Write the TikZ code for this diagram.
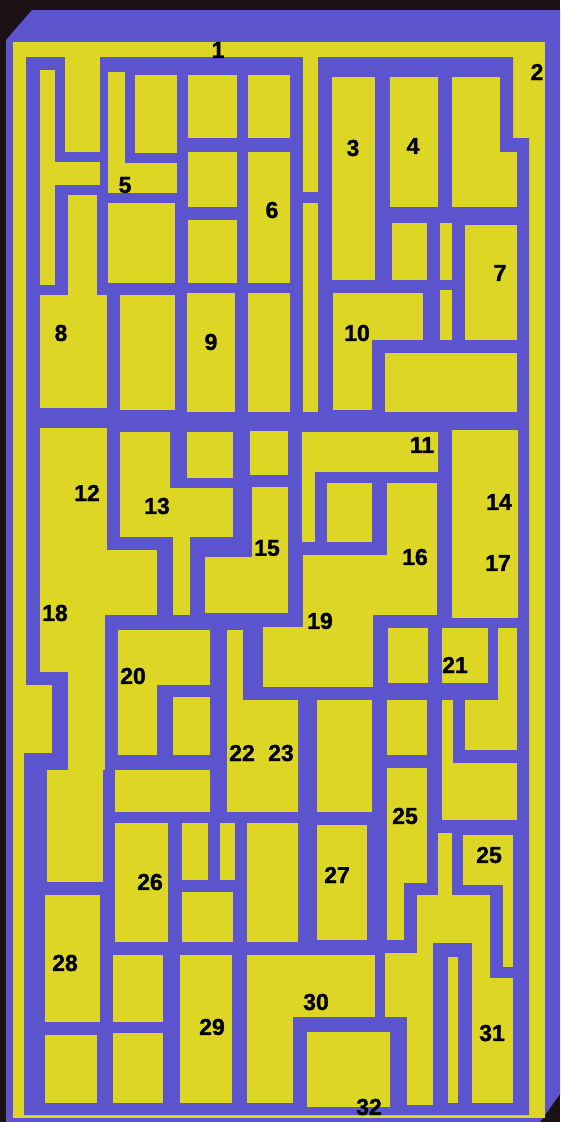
\documentclass[tikz,border=0pt]{standalone}
\usepackage{fontspec}
\setmainfont{Liberation Sans}
\newfontfamily\mzlabelfont{Liberation Sans}[BoldFeatures={FakeBold=1.4}]
\usepackage{xcolor}
\definecolor{mzyellow}{RGB}{222,214,36}
\definecolor{mzblue}{RGB}{92,84,205}
\definecolor{mzdark}{RGB}{28,18,22}
\begin{document}
\begin{tikzpicture}[x=1pt, y=-1pt,
    wall/.style={fill=mzblue},
    room/.style={fill=mzyellow},
    lbl/.style={font=\mzlabelfont\fontsize{23}{23}\selectfont\bfseries, text=black, inner sep=0pt}
]
    \useasboundingbox (0,0) rectangle (560,1122);
    \fill[mzdark] (0,0) rectangle (560,1122);
    \fill[wall] (6,40) -- (32,10) -- (560,10) -- (560,1094) -- (540,1122) -- (6,1122) -- cycle;
    \fill[room] (13,42) rectangle (545,1118);
    \fill[wall] (26,57) -- (513,57) -- (513,138) -- (529,138) -- (529,1115) -- (24,1115) -- (24,753) -- (52,753) -- (52,685) -- (26,685) -- cycle;

    \fill[room] (65,42) rectangle (100,152);
    \fill[room] (303,42) rectangle (318,192);
    \fill[room] (303,203) rectangle (318,412);

    \fill[room] (40,70) rectangle (55,285);
    \fill[room] (40,162) rectangle (100,185);
    \fill[room] (68,195) rectangle (97,295);
    \fill[room] (40,295) rectangle (107,408);
    \fill[room] (108,72) rectangle (125,193);
    \fill[room] (108,163) rectangle (177,193);
    \fill[room] (135,75) rectangle (177,153);
    \fill[room] (108,203) rectangle (175,283);
    \fill[room] (188,75) rectangle (237,138);
    \fill[room] (188,152) rectangle (237,207);
    \fill[room] (188,220) rectangle (237,283);
    \fill[room] (248,75) rectangle (290,138);
    \fill[room] (248,152) rectangle (290,283);
    \fill[room] (332,77) rectangle (375,280);
    \fill[room] (390,77) rectangle (438,207);
    \fill[room] (452,77) rectangle (500,152);
    \fill[room] (452,152) rectangle (517,207);
    \fill[room] (392,223) rectangle (427,280);
    \fill[room] (440,223) rectangle (452,280);
    \fill[room] (465,225) rectangle (517,340);
    \fill[room] (120,295) rectangle (175,410);
    \fill[room] (187,293) rectangle (235,412);
    \fill[room] (248,293) rectangle (290,412);
    \fill[room] (333,293) rectangle (372,410);
    \fill[room] (333,293) rectangle (423,340);
    \fill[room] (440,290) rectangle (452,340);
    \fill[room] (385,353) rectangle (517,412);

    \fill[room] (40,428) rectangle (107,550);
    \fill[room] (40,550) rectangle (157,615);
    \fill[room] (40,615) rectangle (105,672);
    \fill[room] (68,672) rectangle (105,770);
    \fill[room] (47,770) rectangle (103,882);
    \fill[room] (13,685) rectangle (52,753);
    \fill[room] (120,432) rectangle (170,537);
    \fill[room] (120,488) rectangle (233,537);
    \fill[room] (173,537) rectangle (190,615);
    \fill[room] (187,432) rectangle (233,478);
    \fill[room] (250,431) rectangle (288,475);
    \fill[room] (252,487) rectangle (288,557);
    \fill[room] (205,557) rectangle (288,613);
    \fill[room] (302,432) rectangle (438,472);
    \fill[room] (302,472) rectangle (315,542);
    \fill[room] (327,483) rectangle (372,542);
    \fill[room] (387,483) rectangle (437,615);
    \fill[room] (303,555) rectangle (437,615);
    \fill[room] (303,555) rectangle (373,687);
    \fill[room] (263,627) rectangle (373,687);
    \fill[room] (452,430) rectangle (518,618);
    \fill[room] (118,630) rectangle (157,755);
    \fill[room] (118,630) rectangle (210,685);
    \fill[room] (173,697) rectangle (210,755);
    \fill[room] (115,770) rectangle (210,812);
    \fill[room] (227,630) rectangle (243,700);
    \fill[room] (227,700) rectangle (298,812);
    \fill[room] (317,700) rectangle (372,812);
    \fill[room] (388,628) rectangle (428,683);
    \fill[room] (387,700) rectangle (427,755);
    \fill[room] (387,768) rectangle (427,883);
    \fill[room] (387,883) rectangle (404,940);
    \fill[room] (442,628) rectangle (488,683);
    \fill[room] (498,628) rectangle (517,750);
    \fill[room] (465,700) rectangle (517,750);
    \fill[room] (442,700) rectangle (453,820);
    \fill[room] (442,763) rectangle (517,820);

    \fill[room] (115,823) rectangle (168,942);
    \fill[room] (182,823) rectangle (208,880);
    \fill[room] (220,823) rectangle (235,880);
    \fill[room] (182,892) rectangle (233,942);
    \fill[room] (247,823) rectangle (298,942);
    \fill[room] (317,825) rectangle (367,940);
    \fill[room] (463,835) rectangle (513,885);
    \fill[room] (503,885) rectangle (513,967);
    \fill[room] (438,833) rectangle (452,897);
    \fill[room] (417,895) rectangle (490,943);
    \fill[room] (417,895) rectangle (433,1105);
    \fill[room] (385,953) rectangle (433,1017);
    \fill[room] (407,1017) rectangle (433,1105);
    \fill[room] (472,943) rectangle (490,1103);
    \fill[room] (472,978) rectangle (513,1103);
    \fill[room] (448,957) rectangle (458,1103);
    \fill[room] (45,895) rectangle (100,1022);
    \fill[room] (45,1035) rectangle (97,1103);
    \fill[room] (113,955) rectangle (163,1022);
    \fill[room] (113,1033) rectangle (163,1103);
    \fill[room] (180,955) rectangle (232,1103);
    \fill[room] (247,955) rectangle (375,1017);
    \fill[room] (247,1017) rectangle (293,1103);
    \fill[room] (307,1032) rectangle (390,1107);

    \node[lbl] (n1) at (218,50) {1};
    \node[lbl] (n2) at (537,72) {2};
    \node[lbl] (n3) at (353,148) {3};
    \node[lbl] (n4) at (413,146) {4};
    \node[lbl] (n5) at (125,185) {5};
    \node[lbl] (n6) at (272,210) {6};
    \node[lbl] (n7) at (500,273) {7};
    \node[lbl] (n8) at (61,333) {8};
    \node[lbl] (n9) at (211,342) {9};
    \node[lbl] (n10) at (357,333) {10};
    \node[lbl] (n11) at (422,445) {11};
    \node[lbl] (n12) at (87,493) {12};
    \node[lbl] (n13) at (157,506) {13};
    \node[lbl] (n14) at (499,502) {14};
    \node[lbl] (n15) at (267,548) {15};
    \node[lbl] (n16) at (415,557) {16};
    \node[lbl] (n17) at (498,563) {17};
    \node[lbl] (n18) at (55,613) {18};
    \node[lbl] (n19) at (320,621) {19};
    \node[lbl] (n20) at (133,676) {20};
    \node[lbl] (n21) at (455,665) {21};
    \node[lbl] (n22) at (242,753) {22};
    \node[lbl] (n23) at (281,753) {23};
    \node[lbl] (n25a) at (405,816) {25};
    \node[lbl] (n25b) at (489,855) {25};
    \node[lbl] (n26) at (150,882) {26};
    \node[lbl] (n27) at (337,875) {27};
    \node[lbl] (n28) at (65,963) {28};
    \node[lbl] (n29) at (212,1027) {29};
    \node[lbl] (n30) at (316,1002) {30};
    \node[lbl] (n31) at (492,1033) {31};
    \node[lbl] (n32) at (369,1107) {32};
\end{tikzpicture}
\end{document}
